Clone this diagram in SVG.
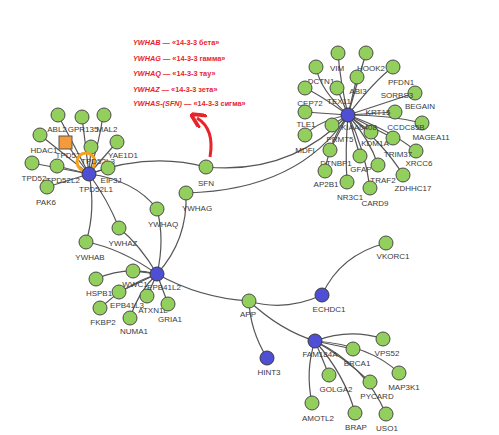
<svg xmlns="http://www.w3.org/2000/svg" width="499" height="435" viewBox="0 0 499 435">
<style>
.e{fill:none;stroke:#555;stroke-width:1.2}
.g{fill:#92cf5c;stroke:#4a4a4a;stroke-width:1}
.b{fill:#4f4fd6;stroke:#3a3a3a;stroke-width:1}
.t{font-family:"Liberation Sans",Arial,sans-serif;font-size:8px;fill:#3a3a3a;text-anchor:middle}
.r{font-family:"Liberation Sans",Arial,sans-serif;font-size:7.3px;font-weight:bold;fill:#e8242b}
</style>
<defs>
<marker id="ah" viewBox="0 0 10 10" refX="5" refY="5" markerWidth="5" markerHeight="5" orient="auto"><path d="M0,0 L10,5 L0,10" fill="none" stroke="#e8242b" stroke-width="2.5"/></marker>
</defs>
<rect width="499" height="435" fill="#fff"/>
<g id="legend">
<text class="r" x="133" y="45"><tspan font-style="italic">YWHAB</tspan> — «14-3-3 бета»</text>
<text class="r" x="133" y="61"><tspan font-style="italic">YWHAG</tspan> — «14-3-3 гамма»</text>
<text class="r" x="133" y="76"><tspan font-style="italic">YWHAQ</tspan> — «14-3-3 тау»</text>
<text class="r" x="133" y="92"><tspan font-style="italic">YWHAZ</tspan> — «14-3-3 зета»</text>
<text class="r" x="133" y="106"><tspan font-style="italic">YWHAS-(SFN)</tspan> — «14-3-3 сигма»</text>
<path d="M210,157 C213,140 210,126 197,118" fill="none" stroke="#e8242b" stroke-width="3" marker-end="url(#ah)"/>
</g>
<g id="edges">
<path class="e" d="M89,174 L58,115"/>
<path class="e" d="M89,174 L65,142"/>
<path class="e" d="M89,174 L82,117"/>
<path class="e" d="M89,174 Q100,140 103,115"/>
<path class="e" d="M89,174 L40,135"/>
<path class="e" d="M89,174 L91,147"/>
<path class="e" d="M89,174 L117,142"/>
<path class="e" d="M89,174 L32,163"/>
<path class="e" d="M89,174 L57,166"/>
<path class="e" d="M89,174 L108,168"/>
<path class="e" d="M89,174 L47,187"/>
<path class="e" d="M89,174 Q150,152 206,167"/>
<path class="e" d="M89,174 Q135,180 157,209"/>
<path class="e" d="M89,174 Q108,200 119,228"/>
<path class="e" d="M89,174 Q96,210 86,242"/>
<path class="e" d="M157,274 Q120,248 86,242"/>
<path class="e" d="M157,274 Q140,245 119,228"/>
<path class="e" d="M157,274 Q165,240 157,209"/>
<path class="e" d="M157,274 Q188,240 186,193"/>
<path class="e" d="M157,274 L133,271"/>
<path class="e" d="M157,274 Q125,266 96,279"/>
<path class="e" d="M157,274 L119,292"/>
<path class="e" d="M157,274 L147,296"/>
<path class="e" d="M157,274 L168,304"/>
<path class="e" d="M157,274 Q125,285 100,308"/>
<path class="e" d="M157,274 Q138,292 130,318"/>
<path class="e" d="M157,274 Q200,298 249,301"/>
<path class="e" d="M249,301 Q285,312 322,295"/>
<path class="e" d="M249,301 Q250,330 267,358"/>
<path class="e" d="M249,301 Q280,330 315,341"/>
<path class="e" d="M322,295 Q340,255 386,243"/>
<path class="e" d="M315,341 L353,349"/>
<path class="e" d="M315,341 Q350,328 383,339"/>
<path class="e" d="M315,341 L329,375"/>
<path class="e" d="M315,341 Q345,358 370,382"/>
<path class="e" d="M315,341 Q370,345 399,373"/>
<path class="e" d="M315,341 Q305,370 312,403"/>
<path class="e" d="M315,341 Q345,375 355,413"/>
<path class="e" d="M315,341 Q365,365 386,414"/>
<path class="e" d="M206,167 Q290,175 348,115"/>
<path class="e" d="M186,193 Q300,190 348,115"/>
<path class="e" d="M348,115 Q340,80 338,53"/>
<path class="e" d="M348,115 L366,53"/>
<path class="e" d="M348,115 Q320,90 316,67"/>
<path class="e" d="M348,115 Q375,80 393,67"/>
<path class="e" d="M348,115 L357,77"/>
<path class="e" d="M348,115 L337,88"/>
<path class="e" d="M348,115 Q320,95 305,88"/>
<path class="e" d="M348,115 L415,93"/>
<path class="e" d="M348,115 L395,112"/>
<path class="e" d="M348,115 L305,112"/>
<path class="e" d="M348,115 L332,125"/>
<path class="e" d="M348,115 Q390,115 422,123"/>
<path class="e" d="M348,115 L371,132"/>
<path class="e" d="M348,115 Q320,120 305,135"/>
<path class="e" d="M348,115 L393,138"/>
<path class="e" d="M348,115 L330,150"/>
<path class="e" d="M348,115 Q390,130 416,151"/>
<path class="e" d="M348,115 L360,156"/>
<path class="e" d="M348,115 Q370,140 378,165"/>
<path class="e" d="M348,115 Q330,140 325,171"/>
<path class="e" d="M348,115 Q385,145 403,175"/>
<path class="e" d="M348,115 Q345,150 347,182"/>
<path class="e" d="M348,115 Q365,150 370,188"/>
</g>
<g id="ABL2"><circle class="g" cx="58" cy="115" r="7"/><text class="t" x="57" y="132">ABL2</text></g>
<g id="GPR135"><circle class="g" cx="82" cy="117" r="7"/><text class="t" x="83" y="132">GPR135</text></g>
<g id="MAL2"><circle class="g" cx="104" cy="115" r="7"/><text class="t" x="107" y="132">MAL2</text></g>
<g id="HDAC1"><circle class="g" cx="40" cy="135" r="7"/><text class="t" x="44" y="153">HDAC1</text></g>
<g id="TPD52sq"><rect x="59" y="136" width="13" height="13" fill="#f59a3a" stroke="#555" stroke-width="1"/><text class="t" x="68" y="158">TPD52</text></g>
<g id="YAE1D1"><circle class="g" cx="117" cy="142" r="7"/><text class="t" x="123" y="158">YAE1D1</text></g>
<g id="TPD52L3"><circle class="g" cx="91" cy="147" r="7"/><circle cx="86" cy="162" r="9" fill="none" stroke="#f5a01e" stroke-width="3"/><text class="t" x="98" y="164">TPD52L3</text></g>
<g id="TPD52"><circle class="g" cx="32" cy="163" r="7"/><text class="t" x="34" y="181">TPD52</text></g>
<g id="TPD52L2"><circle class="g" cx="57" cy="166" r="7"/><text class="t" x="63" y="183">TPD52L2</text></g>
<g id="EIF3J"><circle class="g" cx="108" cy="168" r="7"/><text class="t" x="111" y="183">EIF3J</text></g>
<g id="PAK6"><circle class="g" cx="47" cy="187" r="7"/><text class="t" x="46" y="205">PAK6</text></g>
<g id="TPD52L1"><circle class="b" cx="89" cy="174" r="7"/><text class="t" x="96" y="192">TPD52L1</text></g>
<g id="SFN"><circle class="g" cx="206" cy="167" r="7"/><text class="t" x="206" y="186">SFN</text></g>
<g id="YWHAG"><circle class="g" cx="186" cy="193" r="7"/><text class="t" x="197" y="211">YWHAG</text></g>
<g id="YWHAQ"><circle class="g" cx="157" cy="209" r="7"/><text class="t" x="163" y="227">YWHAQ</text></g>
<g id="YWHAZ"><circle class="g" cx="119" cy="228" r="7"/><text class="t" x="123" y="246">YWHAZ</text></g>
<g id="YWHAB"><circle class="g" cx="86" cy="242" r="7"/><text class="t" x="90" y="260">YWHAB</text></g>
<g id="WWC1"><circle class="g" cx="133" cy="271" r="7"/><text class="t" x="135" y="287">WWC1</text></g>
<g id="HSPB1"><circle class="g" cx="96" cy="279" r="7"/><text class="t" x="99" y="296">HSPB1</text></g>
<g id="EPB41L3"><circle class="g" cx="119" cy="292" r="7"/><text class="t" x="127" y="308">EPB41L3</text></g>
<g id="ATXN1L"><circle class="g" cx="147" cy="296" r="7"/><text class="t" x="153" y="313">ATXN1L</text></g>
<g id="GRIA1"><circle class="g" cx="168" cy="304" r="7"/><text class="t" x="170" y="322">GRIA1</text></g>
<g id="FKBP2"><circle class="g" cx="100" cy="308" r="7"/><text class="t" x="103" y="325">FKBP2</text></g>
<g id="NUMA1"><circle class="g" cx="130" cy="318" r="7"/><text class="t" x="134" y="334">NUMA1</text></g>
<g id="EPB41L2"><circle class="b" cx="157" cy="274" r="7"/><text class="t" x="164" y="290">EPB41L2</text></g>
<g id="APP"><circle class="g" cx="249" cy="301" r="7"/><text class="t" x="248" y="317">APP</text></g>
<g id="ECHDC1"><circle class="b" cx="322" cy="295" r="7"/><text class="t" x="329" y="312">ECHDC1</text></g>
<g id="VKORC1"><circle class="g" cx="386" cy="243" r="7"/><text class="t" x="393" y="259">VKORC1</text></g>
<g id="HINT3"><circle class="b" cx="267" cy="358" r="7"/><text class="t" x="269" y="375">HINT3</text></g>
<g id="BRCA1"><circle class="g" cx="353" cy="349" r="7"/><text class="t" x="357" y="366">BRCA1</text></g>
<g id="VPS52"><circle class="g" cx="383" cy="339" r="7"/><text class="t" x="387" y="356">VPS52</text></g>
<g id="GOLGA2"><circle class="g" cx="329" cy="375" r="7"/><text class="t" x="336" y="392">GOLGA2</text></g>
<g id="PYCARD"><circle class="g" cx="370" cy="382" r="7"/><text class="t" x="377" y="399">PYCARD</text></g>
<g id="MAP3K1"><circle class="g" cx="399" cy="373" r="7"/><text class="t" x="404" y="390">MAP3K1</text></g>
<g id="AMOTL2"><circle class="g" cx="312" cy="403" r="7"/><text class="t" x="318" y="421">AMOTL2</text></g>
<g id="BRAP"><circle class="g" cx="355" cy="413" r="7"/><text class="t" x="356" y="430">BRAP</text></g>
<g id="USO1"><circle class="g" cx="386" cy="414" r="7"/><text class="t" x="387" y="431">USO1</text></g>
<g id="FAM184A"><circle class="b" cx="315" cy="341" r="7"/><text class="t" x="320" y="357">FAM184A</text></g>
<g id="VIM"><circle class="g" cx="338" cy="53" r="7"/><text class="t" x="337" y="71">VIM</text></g>
<g id="HOOK2"><circle class="g" cx="366" cy="53" r="7"/><text class="t" x="371" y="71">HOOK2</text></g>
<g id="DCTN1"><circle class="g" cx="316" cy="67" r="7"/><text class="t" x="321" y="84">DCTN1</text></g>
<g id="PFDN1"><circle class="g" cx="393" cy="67" r="7"/><text class="t" x="401" y="85">PFDN1</text></g>
<g id="ABI3"><circle class="g" cx="357" cy="77" r="7"/><text class="t" x="358" y="94">ABI3</text></g>
<g id="TEX11"><circle class="g" cx="337" cy="88" r="7"/><text class="t" x="339" y="104">TEX11</text></g>
<g id="CEP72"><circle class="g" cx="305" cy="88" r="7"/><text class="t" x="310" y="106">CEP72</text></g>
<g id="SORBS3"><circle class="g" cx="415" cy="93" r="7"/><text class="t" x="397" y="98">SORBS3</text></g>
<g id="BEGAIN"><circle class="g" cx="395" cy="112" r="7"/><text class="t" x="420" y="109">BEGAIN</text></g>
<g id="TLE1"><circle class="g" cx="305" cy="112" r="7"/><text class="t" x="306" y="127">TLE1</text></g>
<g id="CCDC85B"><circle class="g" cx="422" cy="123" r="7"/><text class="t" x="406" y="130">CCDC85B</text></g>
<g id="PRMT5"><circle class="g" cx="332" cy="125" r="7"/><text class="t" x="340" y="142">PRMT5</text></g>
<g id="KDM1A"><circle class="g" cx="371" cy="132" r="7"/><text class="t" x="375" y="146">KDM1A</text></g>
<g id="MDFI"><circle class="g" cx="305" cy="135" r="7"/><text class="t" x="305" y="153">MDFI</text></g>
<g id="MAGEA11"><circle class="g" cx="393" cy="138" r="7"/><text class="t" x="431" y="140">MAGEA11</text></g>
<g id="DTNBP1"><circle class="g" cx="330" cy="150" r="7"/><text class="t" x="336" y="166">DTNBP1</text></g>
<g id="TRIM37"><circle class="g" cx="416" cy="151" r="7"/><text class="t" x="398" y="157">TRIM37</text></g>
<g id="GFAP"><circle class="g" cx="360" cy="156" r="7"/><text class="t" x="361" y="172">GFAP</text></g>
<g id="TRAF2"><circle class="g" cx="378" cy="165" r="7"/><text class="t" x="383" y="183">TRAF2</text></g>
<g id="XRCC6"><circle class="g" cx="403" cy="175" r="7"/><text class="t" x="419" y="166">XRCC6</text></g>
<g id="AP2B1"><circle class="g" cx="325" cy="171" r="7"/><text class="t" x="326" y="187">AP2B1</text></g>
<g id="NR3C1"><circle class="g" cx="347" cy="182" r="7"/><text class="t" x="350" y="200">NR3C1</text></g>
<g id="ZDHHC17"><text class="t" x="413" y="191">ZDHHC17</text></g>
<g id="CARD9"><circle class="g" cx="370" cy="188" r="7"/><text class="t" x="375" y="206">CARD9</text></g>
<g id="KRT15"><text class="t" x="378" y="115">KRT15</text></g>
<g id="KIAA0408"><circle class="b" cx="348" cy="115" r="7"/><text class="t" x="359" y="130">KIAA0408</text></g>
</svg>
